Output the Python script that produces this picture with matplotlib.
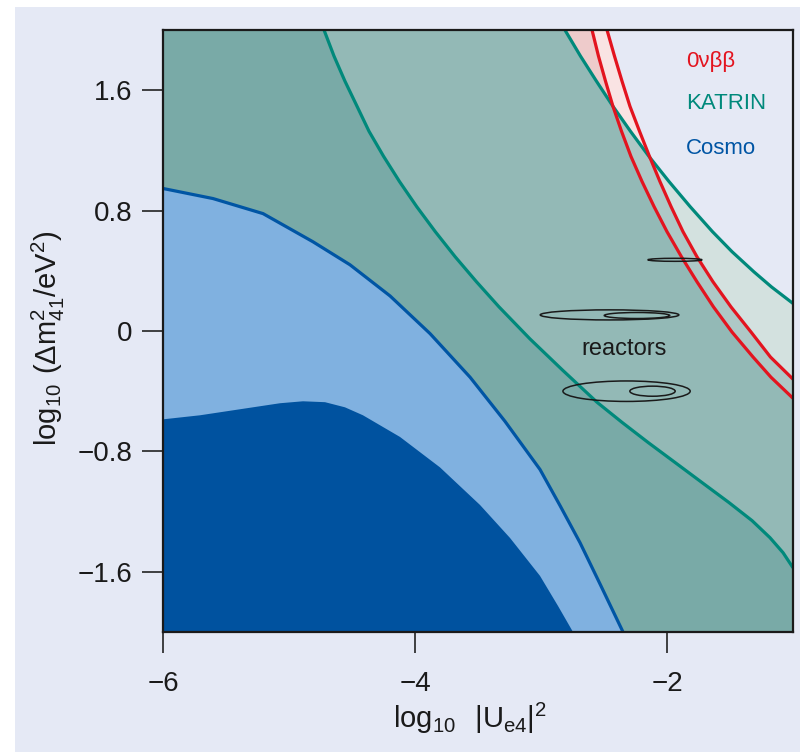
import numpy as np
import matplotlib
matplotlib.use("Agg")
import matplotlib.pyplot as plt
from matplotlib.patches import Ellipse, Polygon, Rectangle

plt.rcParams['font.family'] = ['Liberation Sans Narrow', 'Liberation Sans', 'DejaVu Sans']
plt.rcParams['mathtext.fontset'] = 'custom'
plt.rcParams['mathtext.rm'] = 'Liberation Sans Narrow'

# --- curves (log10|Ue4|^2, log10 dm41^2) ---
katrin_in_x = [-4.722, -4.643, -4.556, -4.460, -4.365, -4.249, -4.123, -3.987,
               -3.839, -3.681, -3.512, -3.333, -3.087, -2.829, -2.556, -2.357,
               -2.151, -1.937, -1.722, -1.508, -1.325, -1.183, -1.079, -1.0]
katrin_in_y = [2.0, 1.827, 1.66, 1.493, 1.327, 1.16, 0.993, 0.827,
               0.66, 0.493, 0.327, 0.16, -0.053, -0.26, -0.473, -0.607,
               -0.74, -0.873, -1.007, -1.14, -1.26, -1.373, -1.473, -1.573]

katrin_out_x = [-2.810, -2.687, -2.560, -2.429, -2.290, -2.143, -1.984, -1.817,
                -1.639, -1.484, -1.310, -1.171, -1.0]
katrin_out_y = [2.0, 1.827, 1.66, 1.493, 1.327, 1.16, 0.993, 0.827,
                0.66, 0.527, 0.393, 0.293, 0.183]

bb_in_x = [-2.595, -2.544, -2.488, -2.429, -2.361, -2.286, -2.198, -2.103,
           -2.0, -1.885, -1.762, -1.631, -1.484, -1.317, -1.175, -1.0]
bb_in_y = [2.0, 1.827, 1.66, 1.493, 1.327, 1.16, 0.993, 0.827,
           0.66, 0.493, 0.327, 0.16, -0.007, -0.173, -0.307, -0.447]

bb_out_x = [-2.476, -2.417, -2.357, -2.294, -2.218, -2.139, -2.056, -1.968,
            -1.873, -1.762, -1.635, -1.492, -1.333, -1.179, -1.0]
bb_out_y = [2.0, 1.827, 1.66, 1.493, 1.327, 1.16, 0.993, 0.827,
            0.66, 0.493, 0.327, 0.16, -0.007, -0.173, -0.32]

cosmo_x = [-6.0, -5.603, -5.206, -4.810, -4.516, -4.198, -3.881, -3.563,
           -3.286, -3.008, -2.849, -2.690, -2.532, -2.349]
cosmo_y = [0.947, 0.88, 0.78, 0.593, 0.44, 0.233, -0.017, -0.307,
           -0.6, -0.92, -1.16, -1.407, -1.68, -2.0]

cosmo_core_x = [-6.0, -5.706, -5.389, -5.071, -4.889, -4.714, -4.556, -4.413,
                -4.119, -3.802, -3.484, -3.246, -3.008, -2.865, -2.746]
cosmo_core_y = [-0.587, -0.56, -0.52, -0.48, -0.467, -0.473, -0.507, -0.56,
                -0.704, -0.906, -1.156, -1.375, -1.627, -1.827, -2.0]

# reactor contours: centre x, centre y, width, height
reactor_cx = [-1.937, -2.456, -2.238, -2.321, -2.115]
reactor_cy = [0.473, 0.107, 0.103, -0.40, -0.40]
reactor_w = [0.43, 1.10, 0.52, 1.01, 0.36]
reactor_h = [0.02, 0.067, 0.04, 0.136, 0.067]

xticks = [-6, -4, -2]
xticklabels = ['\u22126', '\u22124', '\u22122']
yticks = [-1.6, -0.8, 0, 0.8, 1.6]
yticklabels = ['\u22121.6', '\u22120.8', '0', '0.8', '1.6']

XMIN, XMAX, YMIN, YMAX = -6, -1, -2, 2

LAV = '#e5e9f5'
TEAL_LINE = '#00897b'
BLUE_LINE = '#0055a4'
RED = '#e3141f'


def left_region(xs, ys):
    """Polygon of everything left of a curve running top -> bottom/right edge."""
    pts = [(XMIN, YMAX)] + list(zip(xs, ys))
    if ys[-1] > YMIN:
        pts.append((XMAX, YMIN))
    pts.append((XMIN, YMIN))
    if ys[0] < YMAX:
        pts.insert(1, (XMIN, ys[0]))
    return np.array(pts)


fig = plt.figure(figsize=(8, 7.52), dpi=100, facecolor='white')
fig.patches.append(Rectangle((15 / 800, 0), 1, 1 - 7 / 752, transform=fig.transFigure,
                             facecolor=LAV, edgecolor='none', zorder=-10))

ax = fig.add_axes([163 / 800, 1 - 632 / 752, 630 / 800, 602 / 752])
ax.set_facecolor(LAV)
ax.set_xlim(XMIN, XMAX)
ax.set_ylim(YMIN, YMAX)

poly_out = left_region(katrin_out_x, katrin_out_y)
poly_bb_out = left_region(bb_out_x, bb_out_y)
poly_bb_in = left_region(bb_in_x, bb_in_y)

# 0vbb band (pink) underneath everything else
ax.fill(poly_bb_out[:, 0], poly_bb_out[:, 1], color='#f9e3e3', lw=0, zorder=1)
ax.fill(poly_bb_in[:, 0], poly_bb_in[:, 1], color='#eecbcb', lw=0, zorder=1.1)
# KATRIN outer region, and its overlap with the 0vbb region
ax.fill(poly_out[:, 0], poly_out[:, 1], color='#d3e1df', lw=0, zorder=1.2)
band = ax.fill(poly_bb_out[:, 0], poly_bb_out[:, 1], color='#aec8c6', lw=0, zorder=1.3)[0]
band.set_clip_path(Polygon(poly_out, transform=ax.transData))
mid = ax.fill(poly_bb_in[:, 0], poly_bb_in[:, 1], color='#93b9b6', lw=0, zorder=1.4)[0]
mid.set_clip_path(Polygon(poly_out, transform=ax.transData))

poly_in = left_region(katrin_in_x, katrin_in_y)
ax.fill(poly_in[:, 0], poly_in[:, 1], color='#79aaa7', lw=0, zorder=1.5)

poly_c = left_region(cosmo_x, cosmo_y)
ax.fill(poly_c[:, 0], poly_c[:, 1], color='#80b1e0', lw=0, zorder=1.6)
poly_cc = left_region(cosmo_core_x, cosmo_core_y)
ax.fill(poly_cc[:, 0], poly_cc[:, 1], color='#00529f', lw=0, zorder=1.7)

lw = 2.3
kw = dict(lw=lw, solid_joinstyle='round', solid_capstyle='butt')
ax.plot(katrin_in_x, katrin_in_y, color=TEAL_LINE, zorder=2, **kw)
ax.plot(katrin_out_x, katrin_out_y, color=TEAL_LINE, zorder=2, **kw)
ax.plot(bb_in_x, bb_in_y, color=RED, zorder=2.1, **kw)
ax.plot(bb_out_x, bb_out_y, color=RED, zorder=2.1, **kw)
ax.plot(cosmo_x, cosmo_y, color=BLUE_LINE, zorder=2, **kw)

for cx, cy, w, h in zip(reactor_cx, reactor_cy, reactor_w, reactor_h):
    ax.add_patch(Ellipse((cx, cy), w, h, fill=False, edgecolor='#1a1a1a', lw=1.1, zorder=3))
ax.text(-2.34, -0.12, 'reactors', fontsize=17, color='#1a1a1a', ha='center', va='center', zorder=4)

ax.text(0.83, 0.947, '0\u03bd\u03b2\u03b2', transform=ax.transAxes, fontsize=16, color=RED, va='center')
ax.text(0.83, 0.878, 'KATRIN', transform=ax.transAxes, fontsize=16, color=TEAL_LINE, va='center')
ax.text(0.83, 0.803, 'Cosmo', transform=ax.transAxes, fontsize=16, color=BLUE_LINE, va='center')

ax.set_xticks(xticks)
ax.set_xticklabels(xticklabels)
ax.set_yticks(yticks)
ax.set_yticklabels(yticklabels)
ax.tick_params(direction='out', length=15, width=1.2, labelsize=20, color='#222222',
               labelcolor='#1a1a1a', top=False, right=False)
ax.tick_params(axis='x', pad=13)
ax.tick_params(axis='y', pad=7)
for sp in ax.spines.values():
    sp.set_linewidth(1.6)
    sp.set_color('#1a1a1a')
    sp.set_zorder(5)

fig.text(470 / 800, 1 - 718 / 752, r'$\mathregular{log_{10}\ \ |U_{e4}|^2}$', fontsize=21,
         ha='center', va='center', color='#1a1a1a')
fig.text(48 / 800, 1 - 338 / 752, r'$\mathregular{log_{10}\ (\Delta m_{41}^2/eV^2)}$', fontsize=21,
         ha='center', va='center', rotation=90, color='#1a1a1a')

fig.savefig('out.png', dpi=100, facecolor=fig.get_facecolor())
